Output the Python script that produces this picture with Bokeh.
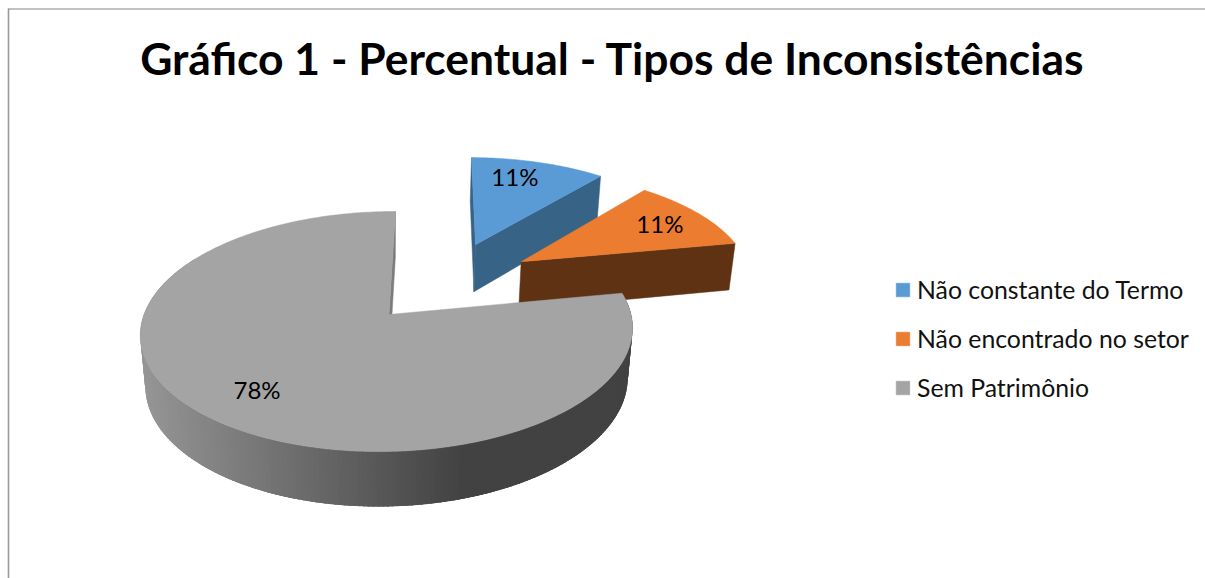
import math
from bokeh.plotting import figure
from bokeh.models import Range1d, Legend, LegendItem
from bokeh.core.properties import value
from bokeh.embed import file_html
from bokeh.resources import INLINE

# ---- data
categories = ["Não constante do Termo", "Não encontrado no setor", "Sem Patrimônio"]
percent = [11, 11, 78]
labels = ["11%", "11%", "78%"]
title = "Gráfico 1 - Percentual - Tipos de Inconsistências"

# ---- styles
top_colors = ["#5B9BD5", "#EB7C30", "#A4A4A4"]
cut_colors = ["#376387", "#5F3213", "#7C7C7C"]
FONT = "Lato"

# ---- 3-D view of the pie (screen pixels of the page)
CX, CY = 388.5, 314.0
R, K, SHEAR, DEPTH = 243.5, 117.6, 7.4, 51.0
P, PX, PZ = 0.142, 0.006, 0.02
explode = [(0.369, 0.65), (0.567, 0.481), (0.0, 0.0)]
label_at = [(0.209, 0.733), (0.663, 0.378), (-0.476, -0.6)]
BACK_LIMIT = 300.0  # the outer wall is hidden by the top beyond this angle


def project(X, Y, Z=0.0):
    w = 1 + P * Y + PX * X + PZ * Z
    return CX + (R * X + SHEAR * Y) / w, CY - (K * Y - DEPTH * Z) / w


def rim(i, th, Z=0.0):
    ex, ey = explode[i]
    t = math.radians(th)
    return project(ex + math.sin(t), ey + math.cos(t), Z)


def apex(i, Z=0.0):
    return project(explode[i][0], explode[i][1], Z)


total = sum(percent)
starts, a = [], 0.0
for v in percent:
    starts.append((a, a + 360.0 * v / total))
    a += 360.0 * v / total

W, H = 1205, 578
p = figure(width=W, height=H, x_range=Range1d(0, W), y_range=Range1d(H, 0),
           output_backend="svg", toolbar_location=None, min_border=0,
           background_fill_color="white", border_fill_color="white")
p.axis.visible = False
p.grid.visible = False
p.outline_line_color = None

# chart frame (left and top edges only are in view)
p.line([8, 8], [8, H], line_color="#9a9a9a", line_width=1.6)
p.line([8, W], [8.5, 8.5], line_color="#868686", line_width=1.2)


def poly(points, color):
    xs = [q[0] for q in points]
    ys = [q[1] for q in points]
    return p.patch(xs, ys, fill_color=color, line_color=color, line_width=0.5)


def face(i):
    s, e = starts[i]
    n = max(8, int(e - s))
    pts = [apex(i)] + [rim(i, s + (e - s) * j / n) for j in range(n + 1)]
    return poly(pts, top_colors[i])


def cut_wall(i, th):
    return poly([apex(i), rim(i, th), rim(i, th, 1), apex(i, 1)], cut_colors[i])


def shade(x):
    # side of the large slice: light at its left, dark from about x=470
    t = min(1.0, max(0.0, (x - 145.0) / (470.0 - 145.0)))
    g = int(round(0x95 + (0x42 - 0x95) * t))
    return "#%02x%02x%02x" % (g, g, g)


renderers = []

# blue slice
cut_wall(0, starts[0][0])
cut_wall(0, starts[0][1])
renderers.append(face(0))

# orange slice
cut_wall(1, starts[1][1])
renderers.append(face(1))

# large slice: inner wall, outer wall made of overlapping strips, then its top
cut_wall(2, starts[2][1])
s = starts[2][0]
e = min(starts[2][1], BACK_LIMIT)
xs, ys, cs = [], [], []
th = s
while th < e:
    nx = min(e, th + 1.0)
    far = min(e, th + 2.5)
    q = [rim(2, th), rim(2, far), rim(2, far, 1), rim(2, th, 1)]
    xs.append([c[0] for c in q])
    ys.append([c[1] for c in q])
    cs.append(shade((rim(2, th)[0] + rim(2, nx)[0]) / 2))
    th = nx
p.patches(xs[::-1], ys[::-1], fill_color=cs[::-1], line_color=None)
renderers.append(face(2))

# percent labels
for i, t in enumerate(labels):
    lx, ly = project(explode[i][0] + label_at[i][0], explode[i][1] + label_at[i][1])
    p.text([lx], [ly], text=[t], text_align="center", text_baseline="middle", y_offset=-2,
           text_font=value(FONT), text_font_size="24px", text_color="#000000")

# title
p.text([612], [57], text=[title], text_align="center", text_baseline="middle",
       text_font=value(FONT), text_font_style="bold", text_font_size="44.4px",
       text_color="#000000")

legend = Legend(items=[LegendItem(label=c, renderers=[r]) for c, r in zip(categories, renderers)],
                location=(894, 176), orientation="vertical",
                glyph_width=17, glyph_height=17, label_standoff=6, spacing=20,
                label_text_font=FONT, label_text_font_size="24.8px", label_text_color="#111111",
                label_height=25, background_fill_alpha=0, border_line_color=None,
                margin=0, padding=0)
p.add_layout(legend, "center")

open("out.html", "w").write(file_html(p, INLINE))
